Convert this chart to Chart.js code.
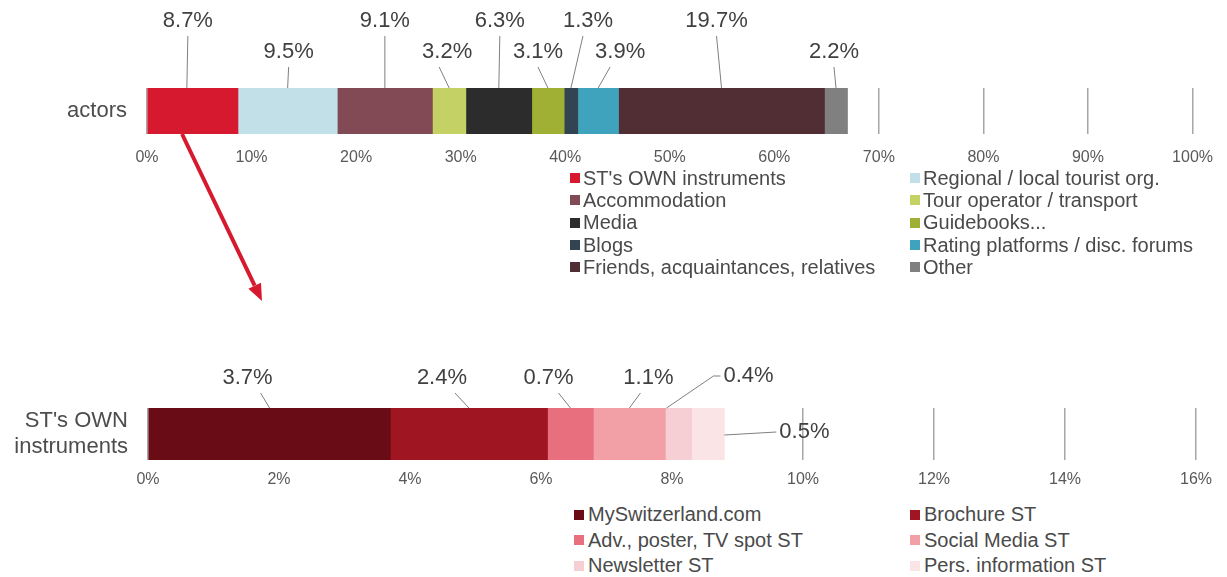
<!DOCTYPE html>
<html>
<head>
<meta charset="utf-8">
<script src="https://cdn.jsdelivr.net/npm/chart.js@4/dist/chart.umd.min.js"></script>
<style>
  html, body { margin: 0; padding: 0; background: #fff; }
  #wrap { position: relative; width: 1227px; height: 577px; overflow: hidden; font-family: "Liberation Sans", Arial, sans-serif; }
  canvas { position: absolute; left: 0; }
  .legend { position: absolute; display: grid; color: #4a4a4a; font-size: 20px; white-space: nowrap; }
  .legend .item { display: flex; align-items: center; }
  .legend .box { width: 10px; height: 10px; margin-right: 3px; flex: none; }
  #legendTop { left: 570px; top: 167px; grid-template-columns: 340px auto; grid-auto-rows: 22.3px; }
  #legendBottom { left: 574px; top: 502px; grid-template-columns: 336px auto; grid-auto-rows: 25.5px; }
  #legendBottom .box { margin-right: 4px; }
</style>
</head>
<body>
<div id="wrap">
  <canvas id="topChart" width="1227" height="320" style="top:0"></canvas>
  <canvas id="bottomChart" width="1227" height="160" style="top:340px"></canvas>
  <div id="legendTop" class="legend"></div>
  <div id="legendBottom" class="legend"></div>
</div>
<script>
// top bar: all actors
const topCategories = ["actors"];
const topLabels = [
  "ST's OWN instruments", "Regional / local tourist org.", "Accommodation",
  "Tour operator / transport", "Media", "Guidebooks...", "Blogs",
  "Rating platforms / disc. forums", "Friends, acquaintances, relatives", "Other"
];
const topValues = [8.7, 9.5, 9.1, 3.2, 6.3, 3.1, 1.3, 3.9, 19.7, 2.2];
const topColors = ["#d7192f", "#c1e0e8", "#824a55", "#c3d165", "#2c2c2c",
                   "#9fb034", "#324352", "#3fa3bd", "#512e34", "#808080"];
const topTicks = [0, 10, 20, 30, 40, 50, 60, 70, 80, 90, 100];

// bottom bar: ST's own instruments
const bottomCategories = [["ST's OWN", "instruments"]];
const bottomLabels = [
  "MySwitzerland.com", "Brochure ST", "Adv., poster, TV spot ST",
  "Social Media ST", "Newsletter ST", "Pers. information ST"
];
const bottomValues = [3.7, 2.4, 0.7, 1.1, 0.4, 0.5];
const bottomColors = ["#6a0c15", "#a01522", "#e76f7e", "#f2a0a6", "#f5cfd3", "#fae4e6"];
const bottomTicks = [0, 2, 4, 6, 8, 10, 12, 14, 16];

const FONT = '"Liberation Sans", Arial, sans-serif';

// value labels with leader lines
const leaderLabels = {
  id: "leaderLabels",
  afterDatasetsDraw(chart, args, opts) {
    const ctx = chart.ctx;
    const top = chart.chartArea.top;
    ctx.save();
    ctx.font = "22px " + FONT;
    ctx.textAlign = "center";
    ctx.textBaseline = "middle";
    chart.data.datasets.forEach((ds, i) => {
      const bar = chart.getDatasetMeta(i).data[0];
      const s = opts.specs[i] || {};
      const txt = ds.data[0].toFixed(1) + "%";
      const w = ctx.measureText(txt).width;
      const segX = (bar.base + bar.x) / 2;
      let lx, ly, pts;
      if (s.type === "right") {
        lx = bar.x + s.dx; ly = bar.y + s.dy;
        pts = [[bar.x, bar.y + 1], [lx - w / 2 - 3, ly]];
      } else if (s.type === "elbow") {
        lx = segX + s.dx; ly = top + s.dy;
        pts = [[lx - w / 2 - 3, ly], [lx - w / 2 - 10, ly], [segX + (s.ex || 0), top]];
      } else {
        lx = segX + (s.dx || 0); ly = top + s.dy;
        pts = [[lx + (s.sx || 0), ly + 15], [segX + (s.ex || 0), top]];
      }
      ctx.strokeStyle = "#7f7f7f";
      ctx.lineWidth = 1;
      ctx.beginPath();
      pts.forEach((p, k) => k ? ctx.lineTo(p[0], p[1]) : ctx.moveTo(p[0], p[1]));
      ctx.stroke();
      ctx.fillStyle = "#404040";
      ctx.fillText(txt, lx, ly);
    });
    ctx.restore();
  }
};

// red arrow from the first segment down to the detail bar
const arrowPlugin = {
  id: "arrow",
  afterDraw(chart, args, opts) {
    if (!opts.to) return;
    const bar = chart.getDatasetMeta(0).data[0];
    const x0 = bar.base + (bar.x - bar.base) * 0.38;
    const y0 = bar.y + bar.height / 2;
    const [x1, y1] = opts.to;
    const ang = Math.atan2(y1 - y0, x1 - x0);
    const head = 17, half = 7;
    const ctx = chart.ctx;
    ctx.save();
    ctx.strokeStyle = ctx.fillStyle = "#d7192f";
    ctx.lineWidth = 4;
    ctx.beginPath();
    ctx.moveTo(x0, y0);
    ctx.lineTo(x1 - Math.cos(ang) * head, y1 - Math.sin(ang) * head);
    ctx.stroke();
    ctx.beginPath();
    ctx.moveTo(x1, y1);
    ctx.lineTo(x1 - Math.cos(ang) * head - Math.sin(ang) * half, y1 - Math.sin(ang) * head + Math.cos(ang) * half);
    ctx.lineTo(x1 - Math.cos(ang) * head + Math.sin(ang) * half, y1 - Math.sin(ang) * head - Math.cos(ang) * half);
    ctx.closePath();
    ctx.fill();
    ctx.restore();
  }
};

function makeChart(id, cats, labels, values, colors, ticks, cfg) {
  return new Chart(document.getElementById(id), {
    type: "bar",
    data: {
      labels: cats,
      datasets: labels.map((l, i) => ({
        label: l,
        data: [values[i]],
        backgroundColor: colors[i],
        borderWidth: 0,
        barPercentage: 1,
        categoryPercentage: 1
      }))
    },
    options: {
      indexAxis: "y",
      responsive: false,
      animation: false,
      layout: { padding: cfg.padding },
      scales: {
        x: {
          stacked: true,
          min: ticks[0],
          max: ticks[ticks.length - 1],
          afterBuildTicks: s => { s.ticks = ticks.map(v => ({ value: v })); },
          afterFit: s => { s.height = cfg.xHeight; },
          grid: { color: "#a6a6a6", lineWidth: 1.5, drawTicks: false },
          border: { display: false },
          ticks: {
            padding: cfg.tickPad,
            color: "#595959",
            font: { family: FONT, size: 16 },
            maxRotation: 0,
            callback: v => v + "%"
          }
        },
        y: {
          stacked: true,
          afterFit: s => { s.width = cfg.yWidth; s.paddingTop = 0; s.paddingBottom = 0; },
          grid: { display: false },
          border: { display: false },
          ticks: { padding: 12, color: "#4d4d4d", font: { family: FONT, size: 22 } }
        }
      },
      plugins: {
        legend: { display: false },
        tooltip: { enabled: false },
        leaderLabels: { specs: cfg.specs },
        arrow: { to: cfg.arrowTo }
      }
    },
    plugins: [leaderLabels, arrowPlugin]
  });
}

const topChart = makeChart("topChart", topCategories, topLabels, topValues, topColors, topTicks, {
  padding: { top: 88, bottom: 150, left: 0, right: 30 },
  xHeight: 36, yWidth: 147, tickPad: 14,
  arrowTo: [262, 301],
  specs: [
    { dx: -5, dy: -67, sx: 0, ex: -6 },
    { dx: 1, dy: -36 },
    { dx: 0, dy: -67 },
    { dx: -2, dy: -36, sx: -8 },
    { dx: 1, dy: -67 },
    { dx: -10, dy: -36 },
    { dx: 17, dy: -67, sx: -5 },
    { dx: 22, dy: -36, sx: -10 },
    { dx: -5, dy: -67 },
    { dx: -2, dy: -36 }
  ]
});

const bottomChart = makeChart("bottomChart", bottomCategories, bottomLabels, bottomValues, bottomColors, bottomTicks, {
  padding: { top: 68, bottom: 0, left: 0, right: 31 },
  xHeight: 40, yWidth: 148, tickPad: 10,
  specs: [
    { dx: -22, dy: -30, sx: 13 },
    { dx: -27, dy: -30, sx: 13 },
    { dx: -22, dy: -30, sx: 10 },
    { dx: 19, dy: -30, sx: -8 },
    { type: "elbow", dx: 70, dy: -32, ex: -12 },
    { type: "right", dx: 80, dy: -2 }
  ]
});

// html legends built from the chart datasets
function buildLegend(el, chart) {
  el.innerHTML = chart.data.datasets.map(ds =>
    `<div class="item"><span class="box" style="background:${ds.backgroundColor}"></span>${ds.label}</div>`
  ).join("");
}
buildLegend(document.getElementById("legendTop"), topChart);
buildLegend(document.getElementById("legendBottom"), bottomChart);
</script>
</body>
</html>
